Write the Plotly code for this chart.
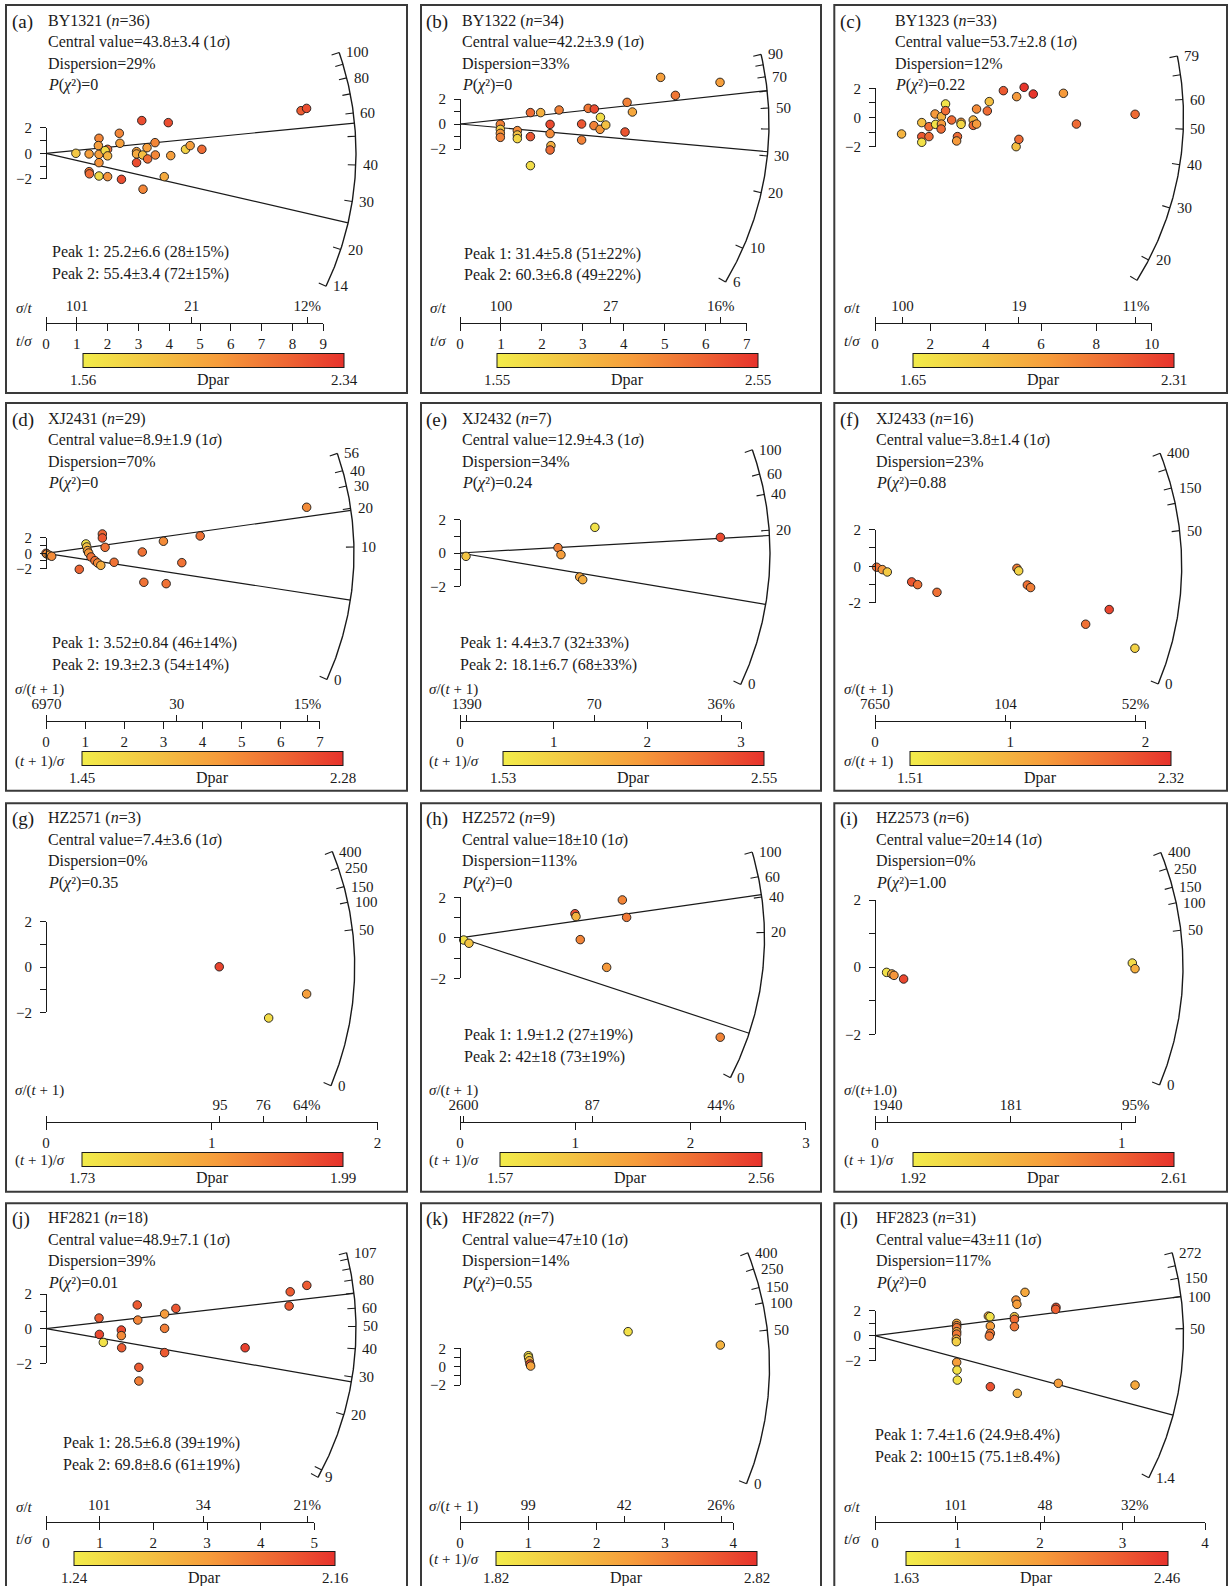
import numpy as np
import plotly.graph_objects as go

W, H = 1230, 1586
SERIF = "Liberation Serif"
INK = "#1a1a1a"

# ------------------------------------------------------------------ data
TAGS = ["(a)", "(b)", "(c)", "(d)", "(e)", "(f)", "(g)", "(h)", "(i)", "(j)", "(k)", "(l)"]
SAMPLES = ["BY1321", "BY1322", "BY1323", "XJ2431", "XJ2432", "XJ2433",
           "HZ2571", "HZ2572", "HZ2573", "HF2821", "HF2822", "HF2823"]
N_GRAINS = [36, 34, 33, 29, 7, 16, 3, 9, 6, 18, 7, 31]
CENTRAL = ["43.8±3.4", "42.2±3.9", "53.7±2.8", "8.9±1.9", "12.9±4.3", "3.8±1.4",
           "7.4±3.6", "18±10", "20±14", "48.9±7.1", "47±10", "43±11"]
DISPERSION = ["29%", "33%", "12%", "70%", "34%", "23%", "0%", "113%", "0%", "39%", "14%", "117%"]
P_CHI2 = ["0", "0", "0.22", "0", "0.24", "0.88", "0.35", "0", "1.00", "0.01", "0.55", "0"]

PEAK_AGES = [[25.2, 55.4], [31.4, 60.3], [], [3.52, 19.3], [4.4, 18.1], [], [],
             [1.9, 42], [], [28.5, 69.8], [], [7.4, 100]]
PEAK_TEXT = [["25.2±6.6 (28±15%)", "55.4±3.4 (72±15%)"],
             ["31.4±5.8 (51±22%)", "60.3±6.8 (49±22%)"], [],
             ["3.52±0.84 (46±14%)", "19.3±2.3 (54±14%)"],
             ["4.4±3.7 (32±33%)", "18.1±6.7 (68±33%)"], [], [],
             ["1.9±1.2 (27±19%)", "42±18 (73±19%)"], [],
             ["28.5±6.8 (39±19%)", "69.8±8.6 (61±19%)"], [],
             ["7.4±1.6 (24.9±8.4%)", "100±15 (75.1±8.4%)"]]

DPAR_MIN = [1.56, 1.55, 1.65, 1.45, 1.53, 1.51, 1.73, 1.57, 1.92, 1.24, 1.82, 1.63]
DPAR_MAX = [2.34, 2.55, 2.31, 2.28, 2.55, 2.32, 1.99, 2.56, 2.61, 2.16, 2.82, 2.46]

ARC_CENTER = [43.8, 42.2, 53.7, 8.9, 12.9, 20.5, 20, 18, 20, 48.9, 20, 43]
AGE_OFFSET = [0, 0, 0, 1, 1, 1, 1, 1, 1, 0, 1, 0]
ARC_TICKS = [[100, 90, 80, 70, 60, 50, 40, 30, 20, 14],
             [90, 80, 70, 60, 50, 40, 30, 20, 10, 6],
             [79, 70, 60, 50, 40, 30, 20, 16.5],
             [56, 40, 30, 20, 10, 0],
             [100, 60, 40, 20, 0],
             [400, 250, 150, 100, 50, 0],
             [400, 250, 150, 100, 50, 0],
             [100, 60, 40, 20, 0],
             [400, 250, 150, 100, 50, 0],
             [107, 100, 90, 80, 70, 60, 50, 40, 30, 20, 10, 9],
             [400, 250, 150, 100, 50, 0],
             [272, 200, 150, 100, 50, 1.4]]
ARC_LABELS = [[100, 80, 60, 40, 30, 20, 14],
              [90, 70, 50, 30, 20, 10, 6],
              [79, 60, 50, 40, 30, 20],
              [56, 40, 30, 20, 10, 0],
              [100, 60, 40, 20, 0],
              [400, 150, 50, 0],
              [400, 250, 150, 100, 50, 0],
              [100, 60, 40, 20, 0],
              [400, 250, 150, 100, 50, 0],
              [107, 80, 60, 50, 40, 30, 20, 9],
              [400, 250, 150, 100, 50, 0],
              [272, 150, 100, 50, 1.4]]

PREC_TICKS = [list(range(10)), list(range(8)), [0, 2, 4, 6, 8, 10], list(range(8)),
              [0, 1, 2, 3], [0, 1, 2], [0, 1, 2], [0, 1, 2, 3], [0, 1],
              [0, 1, 2, 3, 4, 5], [0, 1, 2, 3, 4], [0, 1, 2, 3, 4]]
PREC_END = [9, 7, 10, 7, 3, 2, 2, 3, 1.057, 5, 4, 4]
REL_TICKS = [[1.006, 4.73, 8.48], [1.0, 3.68, 6.37], [0.99, 5.2, 9.43],
             [0.014, 3.34, 6.68], [0.071, 1.434, 2.79], [0.0, 0.965, 1.926],
             [1.049, 1.31, 1.572], [0.03, 1.147, 2.263], [0.051, 0.551, 1.057],
             [0.994, 2.93, 4.87], [1.0, 2.405, 3.82], [0.98, 2.06, 3.15]]
REL_LABELS = [["101", "21", "12%"], ["100", "27", "16%"], ["100", "19", "11%"],
              ["6970", "30", "15%"], ["1390", "70", "36%"], ["7650", "104", "52%"],
              ["95", "76", "64%"], ["2600", "87", "44%"], ["1940", "181", "95%"],
              ["101", "34", "21%"], ["99", "42", "26%"], ["101", "48", "32%"]]

ST = "<i>σ</i>/<i>t</i>"
TS = "<i>t</i>/<i>σ</i>"
SP1 = "<i>σ</i>/(<i>t</i> + 1)"
P1S = "(<i>t</i> + 1)/<i>σ</i>"
TOP_TITLE = [ST, ST, ST, SP1, SP1, SP1, SP1, SP1, "<i>σ</i>/(<i>t</i>+1.0)", ST, SP1, ST]
BOT_TITLE = [TS, TS, TS, P1S, P1S, SP1, P1S, P1S, P1S, TS, P1S, TS]
MINUS = ["−"] * 5 + ["-"] + ["−"] * 6

# precision (t/sigma) and standardised estimate (z) of single grains, with Dpar
A_PREC = [0.97, 1.40, 1.72, 1.70, 1.72, 1.72, 2.00, 1.92, 2.00, 1.40, 1.41, 1.72, 2.00, 2.38, 2.40, 2.45, 3.11,
          2.94, 2.94, 2.94, 3.14, 3.28, 3.30, 3.54, 3.55, 3.15, 3.97, 4.05, 3.84, 4.53, 4.68, 5.06, 8.28, 8.46]
A_Z = [0.00, -0.05, 1.17, 0.60, -0.08, -0.73, 0.31, 0.21, -0.20, -1.43, -1.60, -1.77, -1.82, 1.56, 0.78, -2.03,
       2.55, 0.13, -0.05, -0.73, -0.13, 0.44, -0.44, 0.83, -0.13, -2.80, 2.39, -0.18, -1.82, 0.31, 0.60, 0.31,
       3.32, 3.50]
A_DPAR = [1.75, 1.95, 2.05, 1.95, 1.95, 2.0, 2.15, 1.65, 1.85, 2.1, 2.15, 1.65, 2.0, 2.05, 1.95, 2.25, 2.25, 1.95,
          1.9, 2.25, 1.8, 1.95, 2.15, 2.05, 2.05, 2.05, 2.25, 1.95, 1.9, 1.7, 1.95, 2.15, 2.2, 2.25]

B_PREC = [0.985, 0.985, 0.985, 0.985, 1.40, 1.40, 1.40, 1.72, 1.97, 1.72, 1.72, 2.20, 2.20, 2.22, 2.20, 2.42,
          2.97, 2.97, 3.13, 3.28, 3.27, 3.43, 3.42, 3.56, 4.08, 4.21, 4.03, 4.90, 5.26, 6.35]
B_Z = [-0.03, -0.43, -0.75, -1.07, -0.53, -0.88, -1.17, 0.91, 0.91, -1.01, -3.33, -0.03, -0.77, -1.73, -2.08,
       1.12, 0.00, -1.28, 1.25, 1.20, -0.13, 0.53, -0.43, -0.08, 1.73, 0.96, -0.64, 3.73, 2.29, 3.33]
B_DPAR = [2.2, 1.8, 2.1, 2.2, 2.15, 1.85, 1.7, 2.3, 1.95, 2.4, 1.65, 2.45, 2.15, 1.95, 2.3, 2.2, 2.4, 2.2, 2.25,
          2.45, 2.2, 1.65, 2.1, 1.85, 2.2, 2.0, 2.4, 2.05, 2.25, 2.05]

C_PREC = [0.96, 1.69, 1.69, 1.69, 1.95, 1.95, 2.17, 2.19, 2.40, 2.40, 2.39, 2.55, 2.55, 2.77, 2.98, 2.95, 3.11,
          3.11, 3.55, 3.55, 3.67, 3.67, 4.06, 4.13, 4.64, 5.12, 5.39, 5.72, 5.10, 5.20, 6.81, 7.28, 9.40]
C_Z = [-1.13, -0.35, -1.31, -1.70, -0.63, -1.31, 0.24, -0.47, 0.06, -0.45, -0.79, 0.93, 0.47, -0.17, -1.31,
       -1.61, -0.33, -0.47, -0.17, -0.54, -0.45, 0.58, 0.45, 1.09, 1.84, 1.43, 2.07, 1.61, -2.00, -1.50, 1.66,
       -0.45, 0.22]
C_DPAR = [1.9, 1.85, 2.2, 1.7, 2.15, 2.15, 2.0, 1.7, 1.9, 2.0, 2.15, 1.68, 2.15, 2.15, 2.15, 2.0, 2.0, 1.75, 1.9,
          2.15, 2.0, 2.05, 2.15, 1.85, 2.2, 2.0, 2.3, 2.3, 1.85, 2.15, 2.0, 2.15, 2.15]

D_PREC = [0.0, 0.02, 0.085, 0.145, 1.02, 1.04, 1.06, 1.09, 1.15, 1.25, 1.32, 1.40, 0.85, 1.44, 1.44, 1.51, 1.74,
          2.46, 2.50, 3.00, 3.07, 3.47, 3.94, 6.66]
D_Z = [0.0, -0.09, -0.26, -0.39, 1.22, 0.83, 0.35, 0.04, -0.48, -0.96, -1.26, -1.57, -2.09, 2.52, 2.00, 0.78,
       -1.17, 0.17, -3.78, 1.57, -3.96, -1.22, 2.26, 6.00]
D_DPAR = [2.1, 1.95, 1.85, 1.95, 1.5, 1.7, 1.85, 1.9, 2.05, 2.05, 1.95, 1.8, 2.1, 2.1, 2.15, 2.05, 2.05, 2.05,
          2.05, 1.95, 2.05, 2.05, 2.05, 1.95]

E_PREC = [0.064, 1.046, 1.078, 1.44, 1.278, 1.31, 2.78]
E_Z = [-0.2, 0.32, -0.1, 1.54, -1.44, -1.6, 0.94]
E_DPAR = [1.8, 2.2, 2.05, 1.6, 2.0, 1.95, 2.45]

F_PREC = [0.012, 0.054, 0.091, 0.271, 0.315, 0.458, 1.049, 1.062, 1.126, 1.15, 1.557, 1.731, 1.921]
F_Z = [-0.05, -0.18, -0.31, -0.85, -1.0, -1.42, -0.11, -0.25, -1.02, -1.16, -3.16, -2.36, -4.47]
F_DPAR = [2.1, 1.95, 1.7, 2.2, 2.1, 2.1, 2.05, 1.65, 2.1, 2.05, 2.1, 2.25, 1.65]

G_PREC = [1.045, 1.343, 1.572]
G_Z = [0.01, -2.25, -1.19]
G_DPAR = [1.97, 1.76, 1.86]

H_PREC = [0.032, 0.078, 0.997, 1.006, 1.043, 1.272, 1.408, 1.445, 2.257]
H_Z = [-0.11, -0.27, 1.19, 1.05, -0.09, -1.46, 1.87, 1.01, -4.91]
H_DPAR = [1.65, 1.85, 2.45, 1.95, 2.2, 2.1, 2.2, 2.25, 2.2]

I_PREC = [0.047, 0.068, 0.077, 0.116, 1.043, 1.054]
I_Z = [-0.154, -0.2, -0.243, -0.352, 0.124, -0.045]
I_DPAR = [1.97, 2.2, 2.3, 2.55, 2.0, 2.2]

J_PREC = [0.988, 0.994, 1.068, 1.404, 1.404, 1.41, 1.70, 1.71, 1.73, 1.73, 2.21, 2.21, 2.21, 2.42, 3.71, 4.53,
          4.55, 4.86]
J_Z = [0.615, -0.33, -0.79, -0.077, -0.40, -1.10, 1.37, 0.50, -2.23, -3.02, 0.85, 0.02, -1.38, 1.17, -1.10, 1.31,
       2.13, 2.50]
J_DPAR = [2.0, 2.08, 1.3, 2.08, 1.8, 2.0, 2.0, 1.82, 2.0, 1.85, 1.72, 1.85, 2.0, 2.02, 2.1, 2.0, 2.0, 2.0]

K_PREC = [1.0, 1.005, 1.015, 1.024, 1.034, 2.46, 3.81]
K_Z = [1.2, 0.98, 0.65, 0.29, 0.07, 3.82, 2.36]
K_DPAR = [1.9, 1.95, 2.2, 2.7, 2.3, 1.9, 2.2]

L_PREC = [0.99, 0.99, 0.99, 0.99, 0.99, 0.986, 0.986, 0.99, 0.994, 0.998, 1.374, 1.394, 1.398, 1.398, 1.386,
          1.398, 1.709, 1.72, 1.69, 1.69, 1.69, 1.725, 1.818, 2.194, 2.19, 2.222, 3.152]
L_Z = [0.99, 0.8, 0.64, 0.32, 0.13, -0.27, -0.48, -2.13, -2.75, -3.55, 1.57, 1.52, 0.77, 0.19, -0.03, -4.08,
       2.85, 2.51, 1.52, 1.31, 0.72, -4.61, 3.47, 2.27, 2.11, -3.81, -3.95]
L_DPAR = [2.0, 2.15, 2.2, 2.0, 2.2, 2.0, 1.8, 2.05, 1.7, 1.7, 2.0, 1.7, 2.05, 2.2, 2.2, 2.35, 2.1, 2.05, 1.85,
          2.25, 2.2, 1.95, 2.0, 2.35, 2.3, 2.05, 2.0]

PREC = [A_PREC, B_PREC, C_PREC, D_PREC, E_PREC, F_PREC, G_PREC, H_PREC, I_PREC, J_PREC, K_PREC, L_PREC]
ZVAL = [A_Z, B_Z, C_Z, D_Z, E_Z, F_Z, G_Z, H_Z, I_Z, J_Z, K_Z, L_Z]
DPAR = [A_DPAR, B_DPAR, C_DPAR, D_DPAR, E_DPAR, F_DPAR, G_DPAR, H_DPAR, I_DPAR, J_DPAR, K_DPAR, L_DPAR]

# ------------------------------------------------------------------ layout (pixels)
GEOM = [
    dict(frame=(6, 5, 407, 393), origin=(46, 153.3), sx=30.8, sy=12.83, R=310, axis_y=322.7,
         cbar=(83.3, 344, 354, 368.3), cbar_lab_y=380, text_x=46, tag_x=10, text_y0=20.7,
         peak_x=50, peak_y0=252.3, top_title=(14, 308), bot_title=(14, 340.7)),
    dict(frame=(421, 5, 821, 393), origin=(460, 124), sx=40.95, sy=12.5, R=309, axis_y=322.7,
         cbar=(497.3, 758.3, 354, 368.3), cbar_lab_y=380, text_x=460, tag_x=424, text_y0=20.7,
         peak_x=462.3, peak_y0=254, top_title=(428, 308), bot_title=(428, 340.7)),
    dict(frame=(834.3, 5, 1227, 393), origin=(875, 117.5), sx=27.67, sy=14.58, R=308.5, axis_y=322.7,
         cbar=(913.3, 1174.3, 354, 368.3), cbar_lab_y=380, text_x=893.3, tag_x=838, text_y0=20.7,
         peak_x=None, peak_y0=None, top_title=(842, 308), bot_title=(842, 340.7)),
    dict(frame=(6, 403, 407, 790.7), origin=(46, 553.3), sx=39.14, sy=7.67, R=308, axis_y=720.7,
         cbar=(81.7, 342.7, 752, 766.3), cbar_lab_y=778, text_x=46, tag_x=10, text_y0=418.7,
         peak_x=50, peak_y0=643, top_title=(13, 689.7), bot_title=(13, 761)),
    dict(frame=(421, 403, 821, 790.7), origin=(460, 553), sx=93.67, sy=16.67, R=310, axis_y=720.7,
         cbar=(502.7, 764, 752, 766.3), cbar_lab_y=778, text_x=460, tag_x=424, text_y0=418.7,
         peak_x=458.3, peak_y0=643, top_title=(427, 689.7), bot_title=(427, 761)),
    dict(frame=(834.3, 403, 1227, 790.7), origin=(875, 566.3), sx=135.3, sy=18.33, R=306.7, axis_y=720.7,
         cbar=(910, 1170.7, 752, 766.3), cbar_lab_y=778, text_x=874.3, tag_x=838, text_y0=418.7,
         peak_x=None, peak_y0=None, top_title=(842, 689.7), bot_title=(842, 761)),
    dict(frame=(6, 803.3, 407, 1191.7), origin=(46, 967), sx=165.8, sy=22.67, R=308.7, axis_y=1121.7,
         cbar=(81.7, 342.7, 1152.3, 1166.7), cbar_lab_y=1178.3, text_x=46, tag_x=10, text_y0=818.3,
         peak_x=None, peak_y0=None, top_title=(13, 1090), bot_title=(13, 1160)),
    dict(frame=(421, 803.3, 821, 1191.7), origin=(460, 937.8), sx=115.3, sy=20.25, R=304.5, axis_y=1121.7,
         cbar=(500, 761.7, 1152.3, 1166.7), cbar_lab_y=1178.3, text_x=460, tag_x=424, text_y0=818.3,
         peak_x=462.3, peak_y0=1035, top_title=(427, 1090), bot_title=(427, 1160)),
    dict(frame=(834.3, 803.3, 1227, 1191.7), origin=(875, 967.2), sx=246.7, sy=33.58, R=308, axis_y=1122.3,
         cbar=(913.3, 1174.3, 1152.3, 1166.7), cbar_lab_y=1178.3, text_x=874.3, tag_x=838, text_y0=818.3,
         peak_x=None, peak_y0=None, top_title=(842, 1090), bot_title=(842, 1160)),
    dict(frame=(6, 1203.3, 407, 1590), origin=(46, 1328.7), sx=53.67, sy=17.33, R=310, axis_y=1521.7,
         cbar=(74, 335, 1551.7, 1566), cbar_lab_y=1578.3, text_x=46, tag_x=10, text_y0=1218.3,
         peak_x=60.7, peak_y0=1443.3, top_title=(14, 1506.7), bot_title=(14, 1539.3)),
    dict(frame=(421, 1203.3, 821, 1590), origin=(460, 1366.7), sx=68.33, sy=9.17, R=309.5, axis_y=1521.7,
         cbar=(496, 756.7, 1551.7, 1566), cbar_lab_y=1578.3, text_x=460, tag_x=424, text_y0=1218.3,
         peak_x=None, peak_y0=None, top_title=(427, 1506.7), bot_title=(427, 1559.3)),
    dict(frame=(834.3, 1203.3, 1227, 1590), origin=(875, 1335.7), sx=82.5, sy=12.5, R=308.5, axis_y=1521.7,
         cbar=(906, 1167.7, 1551.7, 1566), cbar_lab_y=1578.3, text_x=874.3, tag_x=838, text_y0=1218.3,
         peak_x=873.3, peak_y0=1435, top_title=(842, 1506.7), bot_title=(842, 1539.3)),
]

COLORSCALE = [[0.0, "#f2ec4a"], [0.28, "#f3c343"], [0.52, "#f69c3b"], [0.78, "#ee6633"], [1.0, "#e7322c"]]
FONT_MAIN = dict(family=SERIF, size=16, color=INK)
FONT_TICK = dict(family=SERIF, size=15, color=INK)
LINE_SP = 21.5


def axkey(c, n):
    return f"{c}axis" if n == 1 else f"{c}axis{n}"


def axref(c, n):
    return c if n == 1 else f"{c}{n}"


def angle(age, centre, off, sx, sy):
    """pixel-space angle of the radial line for a given age"""
    slope = np.log((np.asarray(age, float) + off) / (centre + off))
    return np.arctan(slope * sy / sx)


def polar(r, th, sx, sy):
    return r * np.cos(th) / sx, r * np.sin(th) / sy


fig = go.Figure()
lay = dict(width=W, height=H, margin=dict(l=0, r=0, t=0, b=0, pad=0, autoexpand=False),
           paper_bgcolor="white", plot_bgcolor="rgba(0,0,0,0)", showlegend=False, hovermode=False)
ann, shp = [], []
cnt = {"x": 0, "y": 0}


def new(c):
    cnt[c] += 1
    return cnt[c]


def dummy(xa, ya):
    fig.add_trace(go.Scatter(x=[None], y=[None], xaxis=axref("x", xa), yaxis=axref("y", ya),
                             mode="markers", showlegend=False, hoverinfo="skip"))


for i in range(12):
    g = GEOM[i]
    fl, ft, fr, fb = g["frame"]
    ox, oy = g["origin"]
    sx, sy, R = g["sx"], g["sy"], g["R"]
    xm, xb, xt = new("x"), new("x"), new("x")
    ym, yb = new("y"), new("y")
    XR, YR = axref("x", xm), axref("y", ym)

    # main (hidden) data axes covering the panel interior
    dl, dr, dt, db = fl + 2, fr - 2, ft + 2, min(fb - 2, H)
    lay[axkey("x", xm)] = dict(domain=[dl / W, dr / W], range=[(dl - ox) / sx, (dr - ox) / sx],
                               visible=False, anchor=YR, fixedrange=True)
    lay[axkey("y", ym)] = dict(domain=[1 - db / H, 1 - dt / H], range=[(oy - db) / sy, (oy - dt) / sy],
                               visible=False, anchor=XR, fixedrange=True)

    # bottom precision axis  t/sigma  and relative-error axis sigma/t
    xend = PREC_END[i]
    pos = 1 - g["axis_y"] / H
    common = dict(domain=[ox / W, (ox + xend * sx) / W], range=[0, xend], anchor="free", position=pos,
                  showgrid=False, zeroline=False, fixedrange=True, tickfont=FONT_TICK,
                  tickcolor=INK, tickwidth=1, ticklabeloverflow="allow", tickmode="array")
    lay[axkey("x", xb)] = dict(common, side="bottom", showline=True, linecolor=INK, linewidth=1,
                               ticks="outside", ticklen=7, tickvals=PREC_TICKS[i],
                               ticktext=[str(v) for v in PREC_TICKS[i]])
    rt = list(REL_TICKS[i])
    rl = list(REL_LABELS[i])
    if 0.0 not in rt:
        rt = [0.0] + rt
        rl = [""] + rl
    lay[axkey("x", xt)] = dict(common, side="top", showline=False, ticks="outside", ticklen=6,
                               tickvals=rt, ticktext=rl)
    dummy(xb, ym)
    dummy(xt, ym)

    # +-2 bracket axis
    lay[axkey("y", yb)] = dict(domain=[1 - (oy + 2 * sy) / H, 1 - (oy - 2 * sy) / H], range=[-2, 2],
                               anchor="free", position=ox / W, side="left", showline=True,
                               linecolor=INK, linewidth=1, ticks="outside", ticklen=6, tickwidth=1,
                               tickcolor=INK, tickmode="array", tickvals=[-2, -1, 0, 1, 2],
                               ticktext=[MINUS[i] + "2", "", "0", "", "2"], tickfont=FONT_TICK,
                               showgrid=False, zeroline=False, fixedrange=True, ticklabelstandoff=5)
    dummy(xm, yb)

    # age arc
    c, off = ARC_CENTER[i], AGE_OFFSET[i]
    ticks = ARC_TICKS[i]
    th_lo = angle(min(ticks), c, off, sx, sy)
    th_hi = angle(max(ticks), c, off, sx, sy)
    th = np.linspace(th_lo, th_hi, 160)
    ax_, ay_ = polar(R, th, sx, sy)
    fig.add_trace(go.Scatter(x=ax_, y=ay_, xaxis=XR, yaxis=YR, mode="lines",
                             line=dict(color=INK, width=1.4), hoverinfo="skip"))
    tx, ty = [], []
    for t in ticks:
        a = angle(t, c, off, sx, sy)
        x0, y0 = polar(R, a, sx, sy)
        x1, y1 = polar(R - 8, a, sx, sy)
        tx += [x0, x1, None]
        ty += [y0, y1, None]
    fig.add_trace(go.Scatter(x=tx, y=ty, xaxis=XR, yaxis=YR, mode="lines",
                             line=dict(color=INK, width=1.1), hoverinfo="skip"))
    for t in ARC_LABELS[i]:
        a = angle(t, c, off, sx, sy)
        lx, ly = polar(R, a, sx, sy)
        ann.append(dict(x=lx, y=ly, xref=XR, yref=YR, text=str(t), showarrow=False, xanchor="left",
                        yanchor="middle", xshift=5, font=FONT_TICK))

    # peak lines
    px, py = [], []
    for pk in PEAK_AGES[i]:
        a = angle(pk, c, off, sx, sy)
        ex, ey = polar(R, a, sx, sy)
        px += [0, ex, None]
        py += [0, ey, None]
    if px:
        fig.add_trace(go.Scatter(x=px, y=py, xaxis=XR, yaxis=YR, mode="lines",
                                 line=dict(color=INK, width=1.2), hoverinfo="skip"))

    # single grain ages coloured by Dpar (with horizontal colour bar)
    cx0, cx1, cy0, cy1 = g["cbar"]
    fig.add_trace(go.Scatter(
        x=PREC[i], y=ZVAL[i], xaxis=XR, yaxis=YR, mode="markers", hoverinfo="skip",
        marker=dict(size=8.5, color=DPAR[i], cmin=DPAR_MIN[i], cmax=DPAR_MAX[i], colorscale=COLORSCALE,
                    line=dict(color=INK, width=0.9), showscale=True,
                    colorbar=dict(orientation="h", x=(cx0 + cx1) / 2 / W, xanchor="center", xref="paper",
                                  y=1 - (cy0 + cy1) / 2 / H, yanchor="middle", yref="paper",
                                  len=cx1 - cx0, lenmode="pixels", thickness=cy1 - cy0,
                                  thicknessmode="pixels", outlinewidth=1, outlinecolor=INK,
                                  showticklabels=False, ticks="", xpad=0, ypad=0))))
    for val, xx in ((DPAR_MIN[i], cx0), (DPAR_MAX[i], cx1)):
        ann.append(dict(x=xx / W, y=1 - g["cbar_lab_y"] / H, xref="paper", yref="paper", text=f"{val:.2f}",
                        showarrow=False, xanchor="center", yanchor="middle", font=FONT_TICK))
    ann.append(dict(x=(cx0 + cx1) / 2 / W, y=1 - g["cbar_lab_y"] / H, xref="paper", yref="paper",
                    text="Dpar", showarrow=False, xanchor="center", yanchor="middle", font=FONT_MAIN))

    # axis names
    for (nx_, ny_), txt in ((g["top_title"], TOP_TITLE[i]), (g["bot_title"], BOT_TITLE[i])):
        ann.append(dict(x=nx_ / W, y=1 - ny_ / H, xref="paper", yref="paper", text=txt, showarrow=False,
                        xanchor="left", yanchor="middle", font=FONT_TICK))

    # statistics block
    lines = [f"{SAMPLES[i]} (<i>n</i>={N_GRAINS[i]})",
             f"Central value={CENTRAL[i]} (1<i>σ</i>)",
             f"Dispersion={DISPERSION[i]}",
             f"<i>P</i>(<i>χ</i>²)={P_CHI2[i]}"]
    for k, txt in enumerate(lines):
        ann.append(dict(x=g["text_x"] / W, y=1 - (g["text_y0"] + k * LINE_SP) / H, xref="paper",
                        yref="paper", text=txt, showarrow=False, xanchor="left", yanchor="middle",
                        font=FONT_MAIN))
    ann.append(dict(x=g["tag_x"] / W, y=1 - (g["text_y0"] + 1) / H, xref="paper", yref="paper",
                    text=TAGS[i], showarrow=False, xanchor="left", yanchor="middle",
                    font=dict(family=SERIF, size=19, color=INK)))
    if PEAK_TEXT[i]:
        for k, txt in enumerate(PEAK_TEXT[i]):
            ann.append(dict(x=g["peak_x"] / W, y=1 - (g["peak_y0"] + k * LINE_SP) / H, xref="paper",
                            yref="paper", text=f"Peak {k + 1}: {txt}", showarrow=False, xanchor="left",
                            yanchor="middle", font=FONT_MAIN))

    # panel frame
    shp.append(dict(type="rect", xref="paper", yref="paper", x0=fl / W, x1=fr / W, y0=1 - fb / H,
                    y1=1 - ft / H, line=dict(color="#3a3a3a", width=2), fillcolor="rgba(0,0,0,0)",
                    layer="above"))

lay["annotations"] = ann
lay["shapes"] = shp
fig.update_layout(**lay)
fig.write_html("out.html")
